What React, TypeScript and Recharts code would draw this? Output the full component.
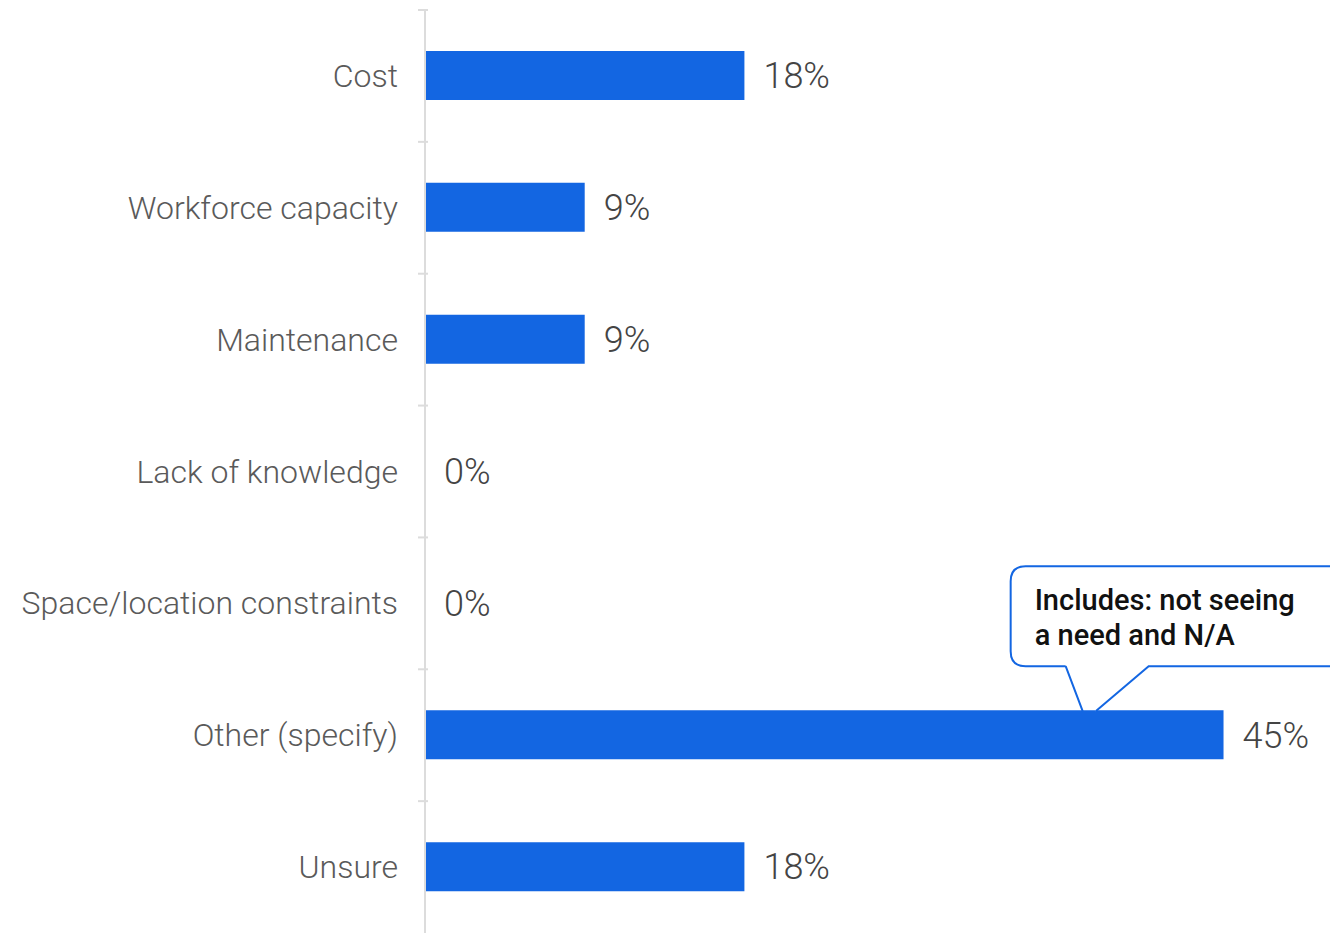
import React from "react";
import {
  BarChart,
  Bar,
  XAxis,
  YAxis,
  LabelList,
  ReferenceDot,
} from "recharts";

const categories = [
  "Cost",
  "Workforce capacity",
  "Maintenance",
  "Lack of knowledge",
  "Space/location constraints",
  "Other (specify)",
  "Unsure",
];
const shares = [18, 9, 9, 0, 0, 45, 18];
const calloutLines = ["Includes: not seeing", "a need and N/A"];
const calloutCategory = "Other (specify)";
const calloutAnchor = 37.4;

const BLUE = "#1366e2";
const AXIS_GREY = "#dcdcdc";
const FONT = "Roboto, 'Noto Sans', sans-serif";

const W = 1330;
const H = 933;
const TOP = 10;
const BAND = (H - TOP) / categories.length;

const data = categories.map((c, i) => ({ category: c, value: shares[i] }));

function CategoryTick(props: any) {
  const { x, y, payload } = props;
  return (
    <g>
      <line
        x1={x + 1}
        x2={x + 11}
        y1={y - BAND / 2}
        y2={y - BAND / 2}
        stroke={AXIS_GREY}
        strokeWidth={2}
      />
      <text
        x={x - 19}
        y={y}
        textAnchor="end"
        dominantBaseline="central"
        fontFamily={FONT}
        fontWeight={300}
        fontSize={32}
        fill="#5a5a5a"
      >
        {payload.value}
      </text>
    </g>
  );
}

function Callout(props: any) {
  const { cx, cy } = props;
  const tipY = cy - 24;
  const left = cx - 78;
  const right = W + 20;
  const top = tipY - 145;
  const bottom = tipY - 45;
  const r = 15;
  const gapL = cx - 23;
  const gapR = cx + 60;
  const path = [
    `M ${gapL} ${bottom}`,
    `L ${left + r} ${bottom}`,
    `Q ${left} ${bottom} ${left} ${bottom - r}`,
    `L ${left} ${top + r}`,
    `Q ${left} ${top} ${left + r} ${top}`,
    `L ${right} ${top}`,
    `L ${right} ${bottom}`,
    `L ${gapR} ${bottom}`,
    `L ${cx + 7} ${tipY}`,
    `M ${gapL} ${bottom}`,
    `L ${cx - 6} ${tipY}`,
  ].join(" ");
  return (
    <g>
      <path d={path} fill="#fff" stroke={BLUE} strokeWidth={2} />
      {calloutLines.map((line, i) => (
        <text
          key={line}
          x={left + 24}
          y={top + 44 + i * 35}
          fontFamily={FONT}
          fontWeight={500}
          fontSize={29}
          fill="#111"
        >
          {line}
        </text>
      ))}
    </g>
  );
}

export default function App() {
  return (
    <div style={{ position: "absolute", left: 0, top: 0, background: "#fff" }}>
      <BarChart
        width={W}
        height={H}
        data={data}
        layout="vertical"
        margin={{ top: TOP, right: 0, bottom: 0, left: 0 }}
        barSize={49}
      >
        <XAxis type="number" domain={[0, 51]} hide />
        <YAxis
          type="category"
          dataKey="category"
          width={425}
          axisLine={{ stroke: AXIS_GREY, strokeWidth: 2 }}
          tickLine={false}
          tick={<CategoryTick />}
          interval={0}
        />
        <Bar
          dataKey="value"
          fill={BLUE}
          minPointSize={0.01}
          isAnimationActive={false}
        >
          <LabelList
            dataKey="value"
            position="right"
            offset={19}
            formatter={(v: any) => `${v}%`}
            style={{
              fontFamily: FONT,
              fontWeight: 300,
              fontSize: 36,
              fill: "#444",
            }}
          />
        </Bar>
        <ReferenceDot
          x={calloutAnchor}
          y={calloutCategory}
          r={0}
          shape={(p: any) => <Callout {...p} />}
        />
      </BarChart>
    </div>
  );
}
